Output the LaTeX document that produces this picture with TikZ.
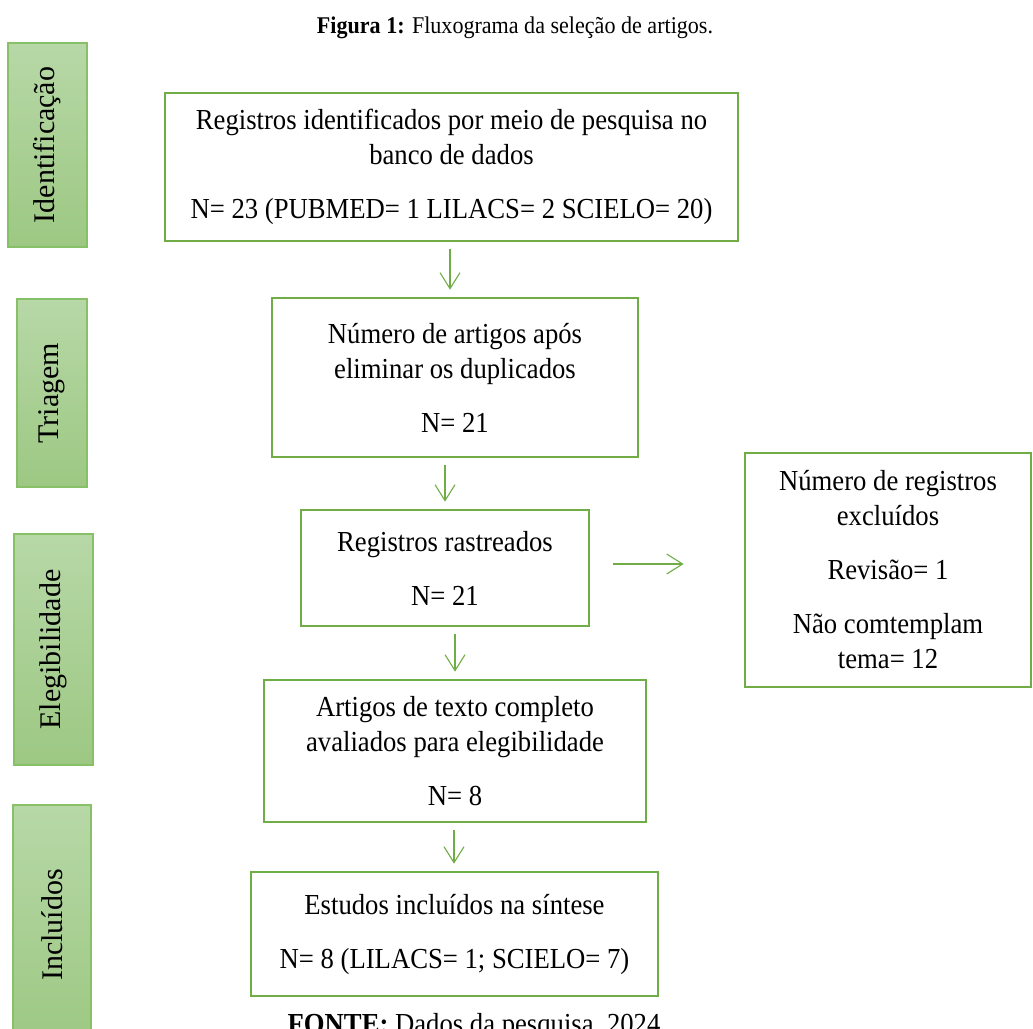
\documentclass[tikz,border=0pt]{standalone}
\usepackage{fontspec}
\setmainfont{Liberation Serif}[FakeStretch=0.92]
\newfontfamily\fasefont{Liberation Serif}
\usepackage{tikz}
\usetikzlibrary{arrows.meta}
\definecolor{verde}{RGB}{112,173,71}
\definecolor{verdeclaro}{RGB}{183,216,167}
\definecolor{verdemedio}{RGB}{157,200,131}
\definecolor{bordafase}{RGB}{136,192,104}

\begin{document}
\begin{tikzpicture}[x=0.5pt,y=-0.5pt,>={Straight Barb[length=8pt,width=10pt]},
    every node/.style={align=center,font=\fontsize{14.5}{17.5}\selectfont},
    caixa/.style={draw=verde,line width=1.3pt,inner sep=0pt},
    fase/.style={draw=bordafase,line width=0.6pt,top color=verdeclaro,bottom color=verdemedio,
      inner sep=0pt,rotate=90,font=\fasefont\fontsize{15}{18}\selectfont},
    seta/.style={->,draw=verde,line width=0.55pt,shorten <=3.5pt,shorten >=3.5pt}]
  \useasboundingbox (0,0) rectangle (1033,1028);

  \node[anchor=base,font=\fontsize{12}{14}\selectfont] (tit) at (515,33)
    {\textbf{Figura 1:} Fluxograma da seleção de artigos.};

  % fases
  \node[fase,minimum width=102pt,minimum height=39.5pt] (fId) at (47.5,145) {Identificação};
  \node[fase,minimum width=94pt,minimum height=35pt] (fTri) at (52,393) {Triagem};
  \node[fase,minimum width=115.5pt,minimum height=39.5pt] (fEle) at (53.5,649.5) {Elegibilidade};
  \node[fase,minimum width=120pt,minimum height=39pt] (fInc) at (52,925) {Incluídos};

  % caixas
  \node[caixa,minimum width=286.5pt,minimum height=74pt] (reg) at (451.5,167)
    {Registros identificados por meio de pesquisa no\\banco de dados\\[9.5pt]
     N= 23 (PUBMED= 1 LILACS= 2 SCIELO= 20)};
  \node[caixa,minimum width=183pt,minimum height=79.5pt] (dup) at (455,377.5)
    {Número de artigos após\\eliminar os duplicados\\[9.5pt]N= 21};
  \node[caixa,minimum width=144pt,minimum height=58pt] (rast) at (445,568)
    {Registros rastreados\\[9.5pt]N= 21};
  \node[caixa,minimum width=143pt,minimum height=117pt] (excl) at (888,570)
    {Número de registros\\excluídos\\[9.5pt]Revisão= 1\\[9.5pt]Não comtemplam\\tema= 12};
  \node[caixa,minimum width=191pt,minimum height=71pt] (aval) at (455,751)
    {Artigos de texto completo\\avaliados para elegibilidade\\[9.5pt]N= 8};
  \node[caixa,minimum width=203.5pt,minimum height=62pt] (sint) at (454.5,934)
    {Estudos incluídos na síntese\\[9.5pt]N= 8 (LILACS= 1; SCIELO= 7)};

  \node[anchor=base] (fonte) at (474,1033) {\textbf{FONTE:} Dados da pesquisa, 2024};

  % setas
  \draw[seta] ([xshift=-0.75pt]reg.south) -- ([xshift=-0.75pt]reg.south |- dup.north);
  \draw[seta] ([xshift=-5pt]dup.south) -- ([xshift=-5pt]dup.south |- rast.north);
  \draw[seta] ([xshift=5pt]rast.south) -- ([xshift=5pt]rast.south |- aval.north);
  \draw[seta] ([xshift=-0.5pt]aval.south) -- ([xshift=-0.5pt]aval.south |- sint.north);
  \draw[seta,shorten <=11.5pt,shorten >=30pt] ([yshift=2pt]rast.east) -- ([yshift=2pt]rast.east -| excl.west);
\end{tikzpicture}
\end{document}
